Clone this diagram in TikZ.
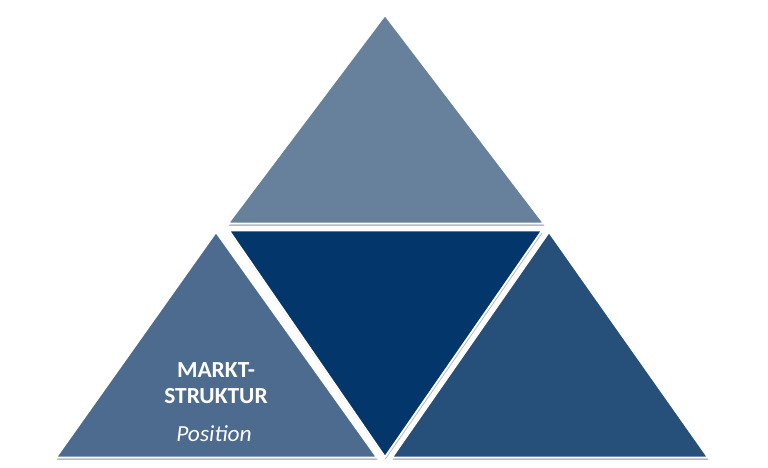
\documentclass[tikz,border=0pt]{standalone}
\usepackage{fontspec}
\setmainfont{Carlito}
\usetikzlibrary{shadows}

\definecolor{topblue}{RGB}{103,128,156}
\definecolor{leftblue}{RGB}{77,107,142}
\definecolor{midblue}{RGB}{3,54,106}
\definecolor{rightblue}{RGB}{38,79,122}

\tikzset{
	tri/.style={draw=white, line width=1.8pt, line join=miter,
		drop shadow={shadow xshift=0.6pt, shadow yshift=-2.4pt, opacity=0.45, fill=black!60}},
	label/.style={text=white, align=center, inner sep=0pt, xscale=1.02}
}

\begin{document}
\begin{tikzpicture}[x=1pt, y=-1pt]
				\useasboundingbox (0,0) rectangle (768,467);
				% corners of the four triangles
				\coordinate (topA) at (385,15);
				\coordinate (topB) at (228,223.5);
				\coordinate (topC) at (544,223.5);
				\coordinate (leftA) at (216,232);
				\coordinate (leftB) at (56,457.5);
				\coordinate (leftC) at (377,457.5);
				\coordinate (midA) at (229,230.5);
				\coordinate (midB) at (542,230.5);
				\coordinate (midC) at (385,457);
				\coordinate (rightA) at (549,232);
				\coordinate (rightB) at (392,457.5);
				\coordinate (rightC) at (708,457.5);
				\foreach \col/\a in {topblue/top, leftblue/left, rightblue/right, midblue/mid}
				\filldraw[tri, fill=\col] (\a A) -- (\a B) -- (\a C) -- cycle;
				\node[label, font=\bfseries\fontsize{23}{26}\selectfont, anchor=base] (markt) at (216,377) {MARKT-};
				\node[label, font=\bfseries\fontsize{23}{26}\selectfont, anchor=base] (struktur) at (216,403) {STRUKTUR};
				\node[label, font=\itshape\fontsize{23}{26}\selectfont, anchor=base] (position) at (214,441) {Position};
			\end{tikzpicture}
\end{document}
